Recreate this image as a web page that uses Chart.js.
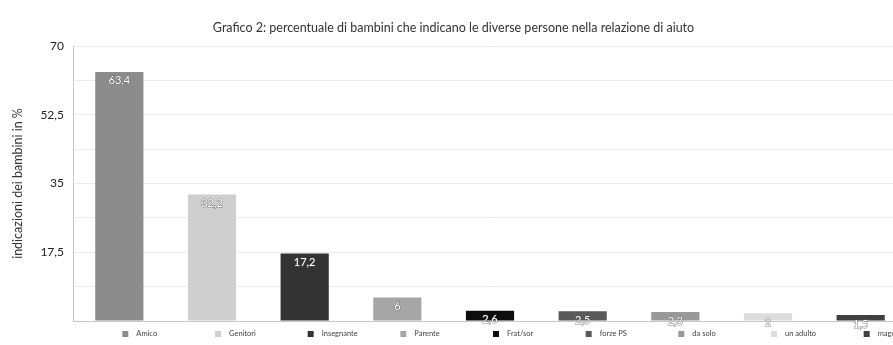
<!DOCTYPE html>
<html>
<head>
<meta charset="utf-8">
<script src="https://cdn.jsdelivr.net/npm/chart.js@4/dist/chart.umd.min.js"></script>
<style>
  html, body { margin: 0; padding: 0; background: #fff; overflow: hidden; }
  #wrap { width: 910px; height: 345px; }
</style>
</head>
<body>
<div id="wrap"><canvas id="aiuto"></canvas></div>
<script>
// dati
var categorie = ['Amico', 'Genitori', 'Insegnante', 'Parente', 'Frat/sor', 'forze PS', 'da solo', 'un adulto', 'mago'];
var percentuali = [63.4, 32.2, 17.2, 6, 2.6, 2.5, 2.3, 2, 1.5];
var colori = ['#8c8c8c', '#cfcfcf', '#333333', '#a6a6a6', '#0d0d0d', '#595959', '#999999', '#dcdcdc', '#404040'];
var tickY = [17.5, 35, 52.5, 70];

function virgola(v) {
  return String(v).replace('.', ',');
}

// etichette dei valori sulle barre
var valoriPlugin = {
  id: 'valori',
  afterDatasetsDraw: function(chart) {
    var ctx = chart.ctx;
    var meta = chart.getDatasetMeta(0);
    ctx.save();
    ctx.font = '11px Lato';
    ctx.textAlign = 'center';
    ctx.textBaseline = 'middle';
    meta.data.forEach(function(bar, i) {
      var txt = virgola(percentuali[i]);
      var y = bar.y + 9;
      ctx.lineWidth = 1;
      ctx.strokeStyle = 'rgba(90,90,90,0.7)';
      ctx.strokeText(txt, bar.x, y);
      ctx.fillStyle = '#ffffff';
      ctx.fillText(txt, bar.x, y);
    });
    ctx.restore();
  }
};

// legenda sotto ogni categoria
var legendaPlugin = {
  id: 'legenda',
  afterDraw: function(chart) {
    var ctx = chart.ctx;
    var x = chart.scales.x;
    var y = chart.chartArea.bottom + 13;
    ctx.save();
    ctx.font = '7.5px Lato';
    ctx.textBaseline = 'middle';
    ctx.textAlign = 'left';
    categorie.forEach(function(c, i) {
      var cx = x.getPixelForValue(i) + 3;
      ctx.fillStyle = colori[i];
      ctx.fillRect(cx, y - 3, 6, 6);
      ctx.fillStyle = '#444';
      ctx.fillText(c, cx + 14, y);
    });
    ctx.restore();
  }
};

var config = {
  type: 'bar',
  data: {
    labels: categorie,
    datasets: [{
      data: percentuali,
      backgroundColor: colori,
      borderWidth: 0,
      barPercentage: 0.52,
      categoryPercentage: 1
    }]
  },
  options: {
    responsive: true,
    maintainAspectRatio: false,
    animation: false,
    layout: { padding: { top: 0, right: 3, bottom: 16, left: 0 } },
    plugins: {
      legend: { display: false },
      tooltip: { enabled: false },
      title: {
        display: true,
        text: 'Grafico 2: percentuale di bambini che indicano le diverse persone nella relazione di aiuto',
        color: '#333',
        font: { family: 'Lato', size: 12.5, weight: 'normal' },
        padding: { top: 20, bottom: 11 }
      }
    },
    scales: {
      x: {
        grid: { display: false },
        border: { color: '#c8c8c8' },
        ticks: { display: false }
      },
      y: {
        min: 0,
        max: 70,
        ticks: {
          stepSize: 8.75,
          color: '#222',
          font: { family: 'Lato', size: 12 },
          padding: 9,
          callback: function(v) {
            return tickY.indexOf(v) >= 0 ? virgola(v) : '';
          }
        },
        grid: { color: '#ebebeb', drawTicks: false },
        border: { color: '#c8c8c8' },
        title: {
          display: true,
          text: 'indicazioni dei bambini in %',
          color: '#333',
          font: { family: 'Lato', size: 12.5 },
          padding: { top: 10, bottom: 4 }
        },
        afterFit: function(scale) { scale.width = 73; }
      }
    }
  },
  plugins: [valoriPlugin, legendaPlugin]
};

window.onload = function() {
  var ctx = document.getElementById('aiuto').getContext('2d');
  window.grafico = new Chart(ctx, config);
};
</script>
</body>
</html>
